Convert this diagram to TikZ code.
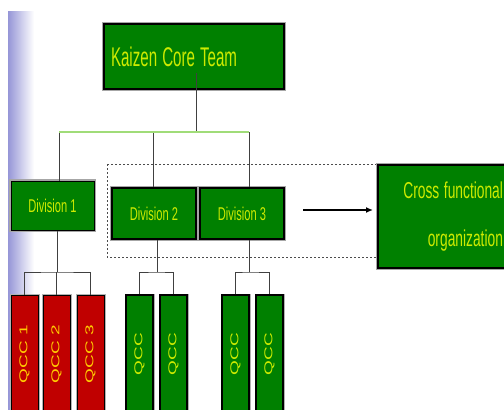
\documentclass[tikz,border=0pt]{standalone}
\usepackage{fontspec}
\setmainfont{Liberation Sans}
\usetikzlibrary{positioning}
\usetikzlibrary{calc}
\usetikzlibrary{arrows.meta}

\definecolor{boxgreen}{RGB}{0,128,0}
\definecolor{boxred}{RGB}{192,0,0}
\definecolor{txtgreen}{RGB}{205,235,0}
\definecolor{txtred}{RGB}{255,204,0}
\definecolor{linegreen}{RGB}{160,220,120}
\definecolor{barblue}{RGB}{150,150,215}
\newcommand{\squeeze}[2][0.6]{\scalebox{#1}[1]{#2}}
\newcommand{\qcctext}[1]{\scalebox{0.6}[1]{\rotatebox{90}{#1}}}

\begin{document}
\begin{tikzpicture}[x = 1pt, y = -1pt,
  greenbox/.style  = {draw = black, fill = boxgreen, text = txtgreen, line width = 2pt,
                      preaction = {draw = gray!70, line width = 3.5pt}},
  corebox/.style   = {greenbox, text width = 166pt, align = left, inner xsep = 7pt,
                      minimum height = 65pt, font = \fontsize{27}{32}\selectfont},
  divbox/.style    = {greenbox, inner sep = 0pt, minimum height = 51pt, minimum width = 84pt,
                      font = \fontsize{18.5}{22}\selectfont},
  crossbox/.style  = {greenbox, text width = 113pt, align = right, inner xsep = 12pt,
                      minimum height = 103pt, font = \fontsize{23}{28}\selectfont},
  qcc/.style       = {draw = black, line width = 0.8pt, inner sep = 0pt,
                      minimum width = 27pt, minimum height = 118pt,
                      preaction = {draw = gray!60, line width = 3pt},
                      font = \fontsize{19}{23}\selectfont},
  redqcc/.style    = {qcc, fill = boxred, text = txtred},
  greenqcc/.style  = {qcc, fill = boxgreen, text = txtgreen, line width = 1.2pt},
  tree/.style      = {draw = black!75, line width = 1pt},
  greenline/.style = {draw = linegreen, line width = 2.2pt},
  dashbox/.style   = {draw = black!70, line width = 1pt, dash pattern = on 2pt off 2pt},
  arrowline/.style = {draw = black, line width = 1.6pt, shorten > = 4pt,
                      -{Latex[length = 7pt, width = 6pt]}}]

\clip (0,0) rectangle (504,410);
\fill[white] (0,0) rectangle (504,410);
\shade[left color = barblue, right color = white] (8,11) rectangle (34,410);

% core team and divisions
\node[corebox, anchor = north west] (core) at (103,23) {\squeeze[0.56]{Kaizen Core Team}};
\node[divbox, minimum width = 83pt, minimum height = 49pt, line width = 1pt] (div1) at (52.5,205.5) {\squeeze{Division 1}};
\draw[dashbox] (107,164) rectangle (377,257);
\node[divbox] (div2) at (154,213.5) {\squeeze{Division 2}};
\node[divbox] (div3) at (242,213.5) {\squeeze{Division 3}};
\node[crossbox, anchor = north west] (cross) at (377,164) {\squeeze{Cross functional}\\[20pt]\squeeze{organization}};

% quality control circles
\node[redqcc]   (q1) at (24.5,354)  {\qcctext{QCC 1}};
\node[redqcc]   (q2) at (56.5,354)  {\qcctext{QCC 2}};
\node[redqcc]   (q3) at (90.5,354)  {\qcctext{QCC 3}};
\node[greenqcc] (q4) at (139.5,354) {\qcctext{QCC}};
\node[greenqcc] (q5) at (173.5,354) {\qcctext{QCC}};
\node[greenqcc] (q6) at (235.5,354) {\qcctext{QCC}};
\node[greenqcc] (q7) at (269.5,354) {\qcctext{QCC}};

% links
\coordinate (stem) at (196,73);
\coordinate (top1) at (59,132);
\coordinate (top2) at (153,132);
\coordinate (top3) at (249,132);
\draw[tree] (stem) -- (stem |- top2);
\draw[tree] (top1) -- (top1 |- div1.north);
\draw[tree] (top2) -- (top2 |- div2.north);
\draw[tree] (top3) -- (top3 |- div3.north);
\draw[greenline] (top1) -- (top3);

\coordinate (j1) at (57,272);
\coordinate (j2) at (157,272);
\coordinate (j3) at (249,272);
\draw[tree] (div1.south -| j1) -- (j1);
\draw[tree] (q1.north) |- (j1) -| (q3.north);
\draw[tree] (q2.north) -- (q2.north |- j1);
\draw[tree] (div2.south -| j2) -- (j2);
\draw[tree] (q4.north) |- (j2) -| (q5.north);
\draw[tree] (div3.south -| j3) -- (j3);
\draw[tree] (q6.north) |- (j3) -| (q7.north);

\coordinate (arrowtail) at (303,210);
\draw[arrowline] (arrowtail) -- (arrowtail -| cross.west);
\end{tikzpicture}
\end{document}
